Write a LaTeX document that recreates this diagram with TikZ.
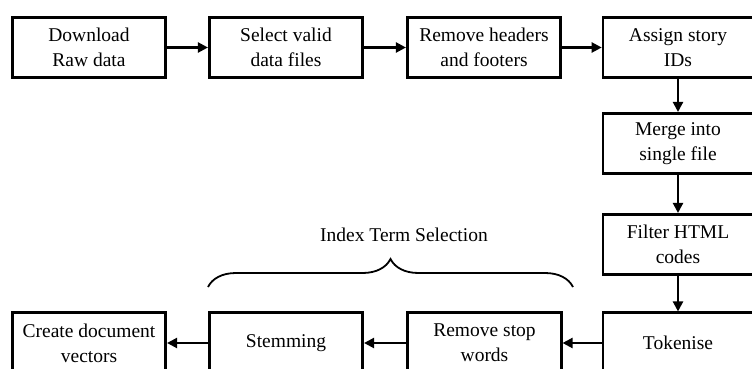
\documentclass[tikz,border=0pt]{standalone}
\usepackage{fontspec}
\setmainfont{Liberation Serif}
\usetikzlibrary{arrows.meta,decorations.pathreplacing}

\begin{document}
\begin{tikzpicture}[x=1pt,y=-1pt,
  stage/.style={draw,line width=2.6pt,minimum width=153.5pt,minimum height=60.5pt,
    align=center,inner sep=2pt,font=\fontsize{19.5}{25}\selectfont},
  colstage/.style={stage,minimum width=150pt},
  flow/.style={line width=2.2pt,-{Triangle[length=10pt,width=10pt]}}]

\useasboundingbox (0,0) rectangle (752,369);

\node [stage] (download) at (89,47.5) {Download\\Raw data};
\node [stage] (select) at (286,47.5) {Select valid\\data files};
\node [stage] (strip) at (484,47.5) {Remove headers\\and footers};
\node [colstage] (ids) at (678,47.5) {Assign story\\IDs};
\node [colstage] (merge) at (678,143.5) {Merge into\\single file};
\node [colstage] (html) at (678,244.5) {Filter HTML\\codes};
\node [colstage] (token) at (678,343) {Tokenise};
\node [stage] (stop) at (484.5,343) {Remove stop\\words};
\node [stage] (stem) at (286,343) {Stemming};
\node [stage] (vectors) at (89,343) {Create document\\vectors};

\draw [flow] (download) -- (select);
\draw [flow] (select) -- (strip);
\draw [flow] (strip) -- (ids);
\draw [flow] (ids) -- (merge);
\draw [flow] (merge) -- (html);
\draw [flow] (html) -- (token);
\draw [flow] (token) -- (stop);
\draw [flow] (stop) -- (stem);
\draw [flow] (stem) -- (vectors);

\coordinate (braceL) at (208,287);
\coordinate (braceR) at (573,287);
\draw [line width=1.8pt, decorate, decoration={brace,amplitude=28pt}]
  (braceL) -- (braceR);
\node [font=\fontsize{19.5}{25}\selectfont] (terms) at (404,235) {Index Term Selection};

\end{tikzpicture}
\end{document}
